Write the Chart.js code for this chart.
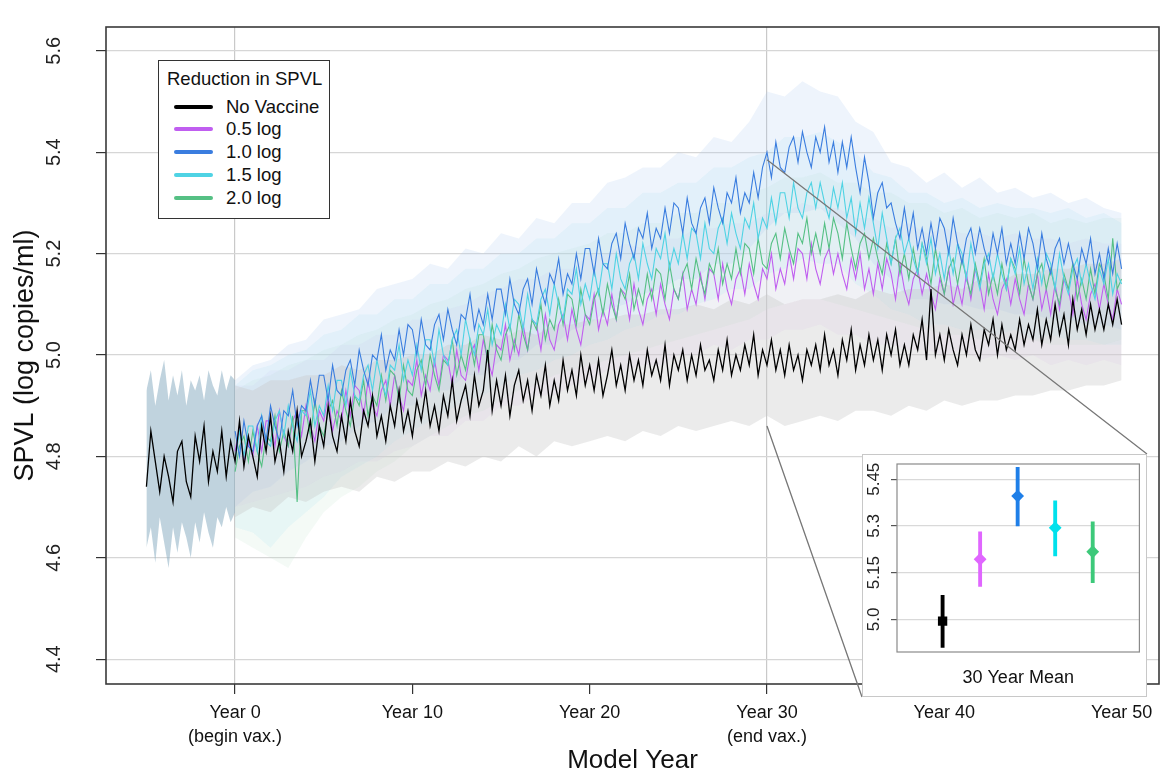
<!DOCTYPE html>
<html>
<head>
<meta charset="utf-8">
<script src="https://cdn.jsdelivr.net/npm/chart.js@4/dist/chart.umd.min.js"></script>
<style>
  body { margin: 0; background: #fff; font-family: "Liberation Sans", Arial, sans-serif; }
  #wrap { position: relative; width: 1161px; height: 779px; overflow: hidden; }
  #main { position: absolute; left: 0; top: 0; }
  #legend { position: absolute; left: 158px; top: 60px; width: 170px; height: 157px;
            border: 1.5px solid #333; background: #fff; font-size: 18.5px; color: #111; }
  #legend .title { position: absolute; left: 8px; top: 7px; line-height: 22px; white-space: nowrap; }
  #legend .row { position: absolute; left: 0; height: 22px; line-height: 22px; white-space: nowrap; }
  #legend .sw { position: absolute; left: 15px; top: 9px; width: 39px; height: 4px; border-radius: 2px; }
  #legend .lbl { position: absolute; left: 67px; top: 0; }
  #insetBox { position: absolute; left: 862px; top: 454px; width: 283px; height: 241px;
              background: #fff; border: 1px solid #c8c8c8; }
</style>
</head>
<body>
<div id="wrap">
  <canvas id="main" width="1161" height="779"></canvas>
  <div id="legend"></div>
  <div id="insetBox"><canvas id="inset" width="283" height="241"></canvas></div>
</div>
<script>
// series names / colours
const seriesNames = ['No Vaccine', '0.5 log', '1.0 log', '1.5 log', '2.0 log'];
const legendTitle = 'Reduction in SPVL';
const lineColors = ['#000000', '#c05ef0', '#3a7ddf', '#4fd3e4', '#55c084'];

// axis ticks
const xTicks = [0, 10, 20, 30, 40, 50];
const xTickLabels = [['Year 0', '(begin vax.)'], 'Year 10', 'Year 20', ['Year 30', '(end vax.)'], 'Year 40', 'Year 50'];
const yTicks = [4.4, 4.6, 4.8, 5.0, 5.2, 5.4, 5.6];
const vGridYears = [0, 30];

// mean SPVL per quarter year, No Vaccine from year -5, the others from year 0
const noVaccineLine = [
  4.74,4.85,4.79,4.73, 4.80,4.76,4.71,4.81, 4.83,4.75,4.72,4.84, 4.79,4.86,4.75,4.81, 4.77,4.85,4.76,4.83,
  4.79,4.87,4.78,4.84, 4.80,4.76,4.86,4.81, 4.88,4.79,4.83,4.77, 4.85,4.81,4.89,4.80, 4.83,4.87,4.79,4.86,
  4.82,4.90,4.84,4.81, 4.88,4.83,4.91,4.85, 4.82,4.89,4.86,4.92, 4.84,4.88,4.83,4.90, 4.86,4.93,4.85,4.89,
  4.84,4.91,4.87,4.93, 4.86,4.90,4.85,4.92, 4.88,4.95,4.87,4.91, 4.94,4.88,4.96,4.90, 4.93,5.01,4.89,4.95,
  4.90,4.96,4.88,4.94, 4.97,4.91,4.95,4.89, 4.96,4.92,4.98,4.90, 4.95,4.91,4.99,4.93, 4.97,4.92,5.00,4.94,
  4.98,4.93,4.99,4.92, 4.96,5.01,4.94,4.98, 4.93,5.00,4.95,4.99, 4.94,5.01,4.96,4.99, 4.95,5.02,4.94,5.00,
  4.97,5.01,4.95,5.00, 4.96,5.02,4.97,4.99, 4.95,5.01,4.97,5.03, 4.96,5.00,4.97,5.02, 4.98,5.04,4.96,5.01,
  4.98,5.03,4.97,5.01, 4.96,5.02,4.97,5.00, 4.95,5.01,4.98,5.02, 4.97,5.04,4.98,5.01, 4.96,5.03,4.99,5.05,
  4.97,5.02,4.98,5.04, 4.99,5.03,4.97,5.04, 5.00,5.05,4.98,5.02, 4.98,5.04,5.01,5.07, 4.99,5.13,5.00,5.04,
  4.99,5.05,5.01,4.98, 5.04,5.00,5.06,5.01, 4.99,5.05,5.02,5.07, 5.00,5.06,5.01,5.04, 5.01,5.07,5.02,5.06,
  5.03,5.09,5.02,5.07, 5.03,5.10,5.04,5.08, 5.02,5.11,5.05,5.09, 5.04,5.10,5.05,5.09, 5.05,5.10,5.06,5.11,
  5.06
];
const halfLogLine = [
  4.81,4.86,4.79,4.83, 4.80,4.86,4.81,4.87, 4.87,4.82,4.89,4.84, 4.82,4.87,4.89,4.84, 4.90,4.86,4.83,4.89,
  4.87,4.92,4.85,4.89, 4.87,4.93,4.88,4.94, 4.93,4.88,4.95,4.90, 4.88,4.93,4.95,4.90, 4.96,4.92,4.89,4.95,
  4.94,4.99,4.92,4.96, 4.93,4.99,4.94,5.00, 4.99,4.94,5.01,4.96, 4.95,5.00,5.02,4.97, 5.03,4.99,4.96,5.02,
  5.01,5.06,4.99,5.03, 5.00,5.06,5.01,5.07, 5.06,5.01,5.08,5.03, 5.01,5.06,5.08,5.03, 5.09,5.05,5.02,5.08,
  5.07,5.12,5.05,5.09, 5.06,5.12,5.07,5.13, 5.12,5.07,5.14,5.09, 5.06,5.11,5.13,5.08, 5.14,5.10,5.07,5.13,
  5.11,5.16,5.09,5.13, 5.10,5.16,5.11,5.17, 5.16,5.11,5.18,5.13, 5.10,5.15,5.17,5.12, 5.18,5.14,5.11,5.17,
  5.15,5.20,5.13,5.17, 5.14,5.20,5.15,5.21, 5.20,5.15,5.22,5.17, 5.14,5.19,5.21,5.16, 5.20,5.16,5.13,5.19,
  5.15,5.20,5.13,5.17, 5.12,5.18,5.13,5.19, 5.16,5.11,5.18,5.13, 5.10,5.15,5.17,5.12, 5.16,5.12,5.09,5.15,
  5.12,5.17,5.10,5.14, 5.10,5.16,5.11,5.17, 5.14,5.09,5.16,5.11, 5.08,5.13,5.15,5.10, 5.15,5.11,5.08,5.14,
  5.11,5.16,5.09,5.13, 5.08,5.14,5.09,5.15, 5.13,5.08,5.15,5.10, 5.07,5.12,5.14,5.09, 5.14,5.10,5.07,5.13,
  5.10
];
const oneLogLine = [
  4.85,4.80,4.87,4.82, 4.81,4.86,4.88,4.83, 4.90,4.86,4.83,4.89, 4.88,4.93,4.86,4.90, 4.89,4.95,4.90,4.96,
  4.96,4.91,4.98,4.93, 4.92,4.97,4.99,4.94, 5.01,4.97,4.94,5.00, 4.99,5.04,4.97,5.01, 4.99,5.05,5.00,5.06,
  5.05,5.00,5.07,5.02, 5.01,5.06,5.08,5.03, 5.09,5.05,5.02,5.08, 5.07,5.12,5.05,5.09, 5.06,5.12,5.07,5.13,
  5.13,5.08,5.15,5.10, 5.08,5.13,5.15,5.10, 5.17,5.13,5.10,5.16, 5.14,5.19,5.12,5.16, 5.14,5.20,5.15,5.21,
  5.21,5.16,5.23,5.18, 5.17,5.22,5.24,5.19, 5.26,5.22,5.19,5.25, 5.23,5.28,5.21,5.25, 5.23,5.29,5.24,5.30,
  5.29,5.24,5.31,5.26, 5.24,5.29,5.31,5.26, 5.33,5.29,5.26,5.32, 5.30,5.35,5.28,5.32, 5.30,5.36,5.31,5.37,
  5.40,5.35,5.42,5.37, 5.36,5.41,5.43,5.38, 5.44,5.40,5.37,5.43, 5.40,5.45,5.38,5.42, 5.36,5.42,5.37,5.43,
  5.37,5.32,5.39,5.34, 5.27,5.32,5.34,5.29, 5.30,5.26,5.23,5.29, 5.23,5.28,5.21,5.25, 5.20,5.26,5.21,5.27,
  5.25,5.20,5.27,5.22, 5.18,5.23,5.25,5.20, 5.25,5.21,5.18,5.24, 5.20,5.25,5.18,5.22, 5.18,5.24,5.19,5.25,
  5.22,5.17,5.24,5.19, 5.16,5.21,5.23,5.18, 5.22,5.18,5.15,5.21, 5.18,5.23,5.16,5.20, 5.15,5.21,5.16,5.22,
  5.17
];
const oneHalfLogLine = [
  4.79,4.85,4.80,4.86, 4.86,4.81,4.88,4.83, 4.82,4.87,4.89,4.84, 4.90,4.86,4.83,4.89, 4.88,4.93,4.86,4.90,
  4.88,4.94,4.89,4.95, 4.95,4.90,4.97,4.92, 4.91,4.96,4.98,4.93, 4.99,4.95,4.92,4.98, 4.97,5.02,4.95,4.99,
  4.96,5.02,4.97,5.03, 5.03,4.98,5.05,5.00, 4.98,5.03,5.05,5.00, 5.07,5.03,5.00,5.06, 5.04,5.09,5.02,5.06,
  5.04,5.10,5.05,5.11, 5.10,5.05,5.12,5.07, 5.06,5.11,5.13,5.08, 5.14,5.10,5.07,5.13, 5.12,5.17,5.10,5.14,
  5.11,5.17,5.12,5.18, 5.18,5.13,5.20,5.15, 5.13,5.18,5.20,5.15, 5.22,5.18,5.15,5.21, 5.19,5.24,5.17,5.21,
  5.18,5.24,5.19,5.25, 5.24,5.19,5.26,5.21, 5.20,5.25,5.27,5.22, 5.28,5.24,5.21,5.27, 5.25,5.30,5.23,5.27,
  5.25,5.31,5.26,5.32, 5.32,5.27,5.34,5.29, 5.27,5.32,5.34,5.29, 5.34,5.30,5.27,5.33, 5.29,5.34,5.27,5.31,
  5.24,5.30,5.25,5.31, 5.26,5.21,5.28,5.23, 5.18,5.23,5.25,5.20, 5.23,5.19,5.16,5.22, 5.18,5.23,5.16,5.20,
  5.15,5.21,5.16,5.22, 5.20,5.15,5.22,5.17, 5.13,5.18,5.20,5.15, 5.20,5.16,5.13,5.19, 5.16,5.21,5.14,5.18,
  5.13,5.19,5.14,5.20, 5.18,5.13,5.20,5.15, 5.12,5.17,5.19,5.14, 5.18,5.14,5.11,5.17, 5.14,5.19,5.12,5.16,
  5.14
];
const twoLogLine = [
  4.77,4.82,4.84,4.79, 4.85,4.81,4.78,4.84, 4.83,4.88,4.81,4.85, 4.82,4.88,4.71,4.89, 4.89,4.84,4.91,4.86,
  4.84,4.89,4.91,4.86, 4.93,4.89,4.86,4.92, 4.90,4.95,4.88,4.92, 4.90,4.96,4.91,4.97, 4.96,4.91,4.98,4.93,
  4.92,4.97,4.99,4.94, 5.00,4.96,4.93,4.99, 4.98,5.03,4.96,5.00, 4.97,5.03,4.98,5.04, 5.04,4.99,5.06,5.01,
  4.99,5.04,5.06,5.01, 5.08,5.04,5.01,5.07, 5.05,5.10,5.03,5.07, 5.05,5.11,5.06,5.12, 5.11,5.06,5.13,5.08,
  5.06,5.11,5.13,5.08, 5.14,5.10,5.07,5.13, 5.11,5.16,5.09,5.13, 5.10,5.16,5.11,5.17, 5.16,5.11,5.18,5.13,
  5.11,5.16,5.18,5.13, 5.19,5.15,5.12,5.18, 5.16,5.21,5.14,5.18, 5.15,5.21,5.16,5.22, 5.21,5.16,5.23,5.18,
  5.17,5.22,5.24,5.19, 5.25,5.21,5.18,5.24, 5.22,5.27,5.20,5.24, 5.20,5.26,5.21,5.27, 5.24,5.19,5.26,5.21,
  5.17,5.22,5.24,5.19, 5.23,5.19,5.16,5.22, 5.18,5.23,5.16,5.20, 5.15,5.21,5.16,5.22, 5.19,5.14,5.21,5.16,
  5.12,5.17,5.19,5.14, 5.19,5.15,5.12,5.18, 5.14,5.19,5.12,5.16, 5.12,5.18,5.13,5.19, 5.17,5.12,5.19,5.14,
  5.11,5.16,5.18,5.13, 5.17,5.13,5.10,5.16, 5.13,5.18,5.11,5.15, 5.11,5.17,5.12,5.18, 5.16,5.11,5.23,5.13,
  5.15
];

// spread bands, one value per year from year 0
const noVaccineBandLow = [4.68,4.70,4.69,4.72,4.71,4.73,4.74,4.73,4.76,4.75,4.77,4.77,4.79,4.78,4.80,4.79,4.82,4.80,4.83,4.82,4.83,4.84,4.83,4.85,4.84,4.86,4.85,4.86,4.87,4.86,4.88,4.86,4.87,4.88,4.87,4.89,4.89,4.88,4.90,4.89,4.91,4.90,4.91,4.91,4.92,4.92,4.93,4.93,4.94,4.94,4.95];
const noVaccineBandHigh = [4.94,4.93,4.95,4.95,4.96,4.96,4.98,4.97,4.99,4.99,5.00,5.00,5.02,5.02,5.04,5.03,5.05,5.04,5.06,5.06,5.07,5.07,5.08,5.08,5.09,5.09,5.10,5.09,5.11,5.10,5.12,5.10,5.11,5.11,5.12,5.11,5.13,5.12,5.13,5.13,5.14,5.13,5.15,5.14,5.16,5.16,5.17,5.17,5.18,5.18,5.19];
const halfLogBandLow = [4.70,4.71,4.72,4.73,4.74,4.76,4.77,4.79,4.79,4.81,4.82,4.84,4.84,4.87,4.87,4.90,4.90,4.92,4.92,4.94,4.95,4.97,4.97,4.98,4.98,5.00,5.00,5.02,5.01,5.03,5.03,5.05,5.05,5.06,5.04,5.04,5.02,5.02,5.01,5.01,5.00,5.01,4.99,5.00,4.99,5.00,4.98,4.99,4.98,4.99,4.98];
const halfLogBandHigh = [4.94,4.94,4.97,4.97,4.99,4.99,5.02,5.02,5.04,5.04,5.07,5.07,5.09,5.10,5.12,5.13,5.15,5.15,5.17,5.17,5.20,5.20,5.22,5.21,5.23,5.23,5.25,5.25,5.26,5.26,5.28,5.28,5.30,5.29,5.29,5.27,5.27,5.25,5.26,5.24,5.25,5.24,5.24,5.23,5.24,5.23,5.23,5.22,5.23,5.22,5.22];
const oneLogBandLow = [4.70,4.73,4.74,4.77,4.79,4.82,4.83,4.86,4.87,4.90,4.90,4.93,4.93,4.96,4.96,4.99,4.99,5.02,5.02,5.05,5.06,5.09,5.10,5.12,5.13,5.15,5.15,5.18,5.18,5.21,5.25,5.28,5.28,5.29,5.26,5.23,5.18,5.15,5.11,5.11,5.10,5.10,5.09,5.09,5.08,5.08,5.07,5.07,5.06,5.06,5.05];
const oneLogBandHigh = [4.95,4.98,4.99,5.02,5.03,5.07,5.08,5.09,5.13,5.14,5.15,5.18,5.17,5.21,5.20,5.24,5.23,5.27,5.26,5.30,5.30,5.34,5.35,5.37,5.37,5.40,5.39,5.43,5.42,5.46,5.52,5.51,5.54,5.52,5.51,5.46,5.44,5.38,5.37,5.34,5.36,5.33,5.35,5.32,5.33,5.31,5.32,5.30,5.31,5.29,5.28];
const oneHalfLogBandLow = [4.66,4.65,4.62,4.66,4.69,4.72,4.76,4.78,4.80,4.83,4.85,4.87,4.89,4.91,4.92,4.94,4.96,4.97,4.99,5.00,5.02,5.03,5.05,5.06,5.08,5.08,5.10,5.11,5.13,5.13,5.16,5.17,5.19,5.18,5.18,5.14,5.12,5.09,5.08,5.06,5.06,5.05,5.05,5.04,5.05,5.03,5.04,5.03,5.03,5.02,5.02];
const oneHalfLogBandHigh = [4.94,4.97,4.98,5.00,5.01,5.04,5.05,5.08,5.08,5.11,5.11,5.14,5.14,5.17,5.17,5.20,5.20,5.23,5.23,5.26,5.26,5.29,5.29,5.32,5.32,5.34,5.34,5.37,5.37,5.39,5.40,5.43,5.43,5.44,5.42,5.40,5.36,5.35,5.32,5.32,5.30,5.31,5.29,5.30,5.29,5.29,5.28,5.29,5.27,5.28,5.26];
const twoLogBandLow = [4.64,4.62,4.60,4.58,4.64,4.69,4.72,4.74,4.77,4.79,4.82,4.84,4.86,4.88,4.89,4.91,4.93,4.94,4.96,4.97,4.98,4.99,5.00,5.01,5.02,5.03,5.04,5.05,5.06,5.07,5.09,5.10,5.11,5.11,5.10,5.09,5.08,5.07,5.06,5.05,5.04,5.04,5.03,5.03,5.03,5.03,5.02,5.02,5.02,5.02,5.03];
const twoLogBandHigh = [4.93,4.95,4.96,4.98,4.99,5.01,5.02,5.04,5.05,5.07,5.08,5.10,5.11,5.13,5.14,5.16,5.17,5.19,5.20,5.21,5.22,5.24,5.24,5.26,5.26,5.28,5.28,5.30,5.30,5.32,5.33,5.35,5.35,5.36,5.34,5.34,5.32,5.32,5.30,5.30,5.28,5.29,5.27,5.28,5.27,5.28,5.26,5.27,5.26,5.27,5.27];
// pre-vaccine spread (all scenarios identical), quarter years from -5 to 0
const preVaxBandLow = [4.62,4.66,4.59,4.68,4.63,4.58,4.66,4.61,4.67,4.64,4.60,4.67,4.63,4.69,4.65,4.62,4.68,4.66,4.70,4.67,4.69];
const preVaxBandHigh = [4.93,4.97,4.90,4.95,4.99,4.91,4.96,4.92,4.97,4.90,4.95,4.93,4.96,4.91,4.97,4.94,4.92,4.97,4.93,4.96,4.95];

// zoom lines from the main chart to the inset
const zoomYear = 30;
const zoomHigh = 5.385;
const zoomLow = 4.86;

// inset: 30 year mean with interval
const insetMean = [4.994, 5.193, 5.396, 5.294, 5.217];
const insetLow = [4.91, 5.106, 5.30, 5.204, 5.118];
const insetHigh = [5.077, 5.281, 5.488, 5.381, 5.313];
const insetTicks = [5.0, 5.15, 5.3, 5.45];
const insetTickLabels = ['5.0', '5.15', '5.3', '5.45'];
const insetColors = ['#000000', '#e066ff', '#1f7fe8', '#00e1ec', '#3dc97a'];

const FONT = '"Liberation Sans", Arial, sans-serif';
Chart.defaults.font.family = FONT;
Chart.defaults.color = '#111';

const quarterYears = (start, n) => Array.from({ length: n }, (_, i) => start + i / 4);
const wholeYears = n => Array.from({ length: n }, (_, i) => i);
const pts = (xs, ys) => ys.map((y, i) => ({ x: xs[i], y }));

function lineSet(label, ys, start, color, width) {
  return { label, data: pts(quarterYears(start, ys.length), ys), borderColor: color,
           borderWidth: width, pointRadius: 0, fill: false, tension: 0 };
}
function bandSets(xs, lo, hi, color) {
  return [
    { data: pts(xs, lo), borderColor: 'rgba(0,0,0,0)', borderWidth: 0, pointRadius: 0, fill: false },
    { data: pts(xs, hi), borderColor: 'rgba(0,0,0,0)', borderWidth: 0, pointRadius: 0, fill: '-1', backgroundColor: color }
  ];
}
// keep the plot area where the layout puts it (no extra room for tick labels)
function fixPadding(s) {
  s.paddingTop = 0; s.paddingBottom = 0; s.paddingLeft = 0; s.paddingRight = 0;
}

// box around the plot area
const frame = {
  id: 'frame',
  afterDatasetsDraw(chart, args, opts) {
    const { ctx, chartArea: a } = chart;
    ctx.save();
    ctx.strokeStyle = opts.color;
    ctx.lineWidth = opts.width;
    ctx.strokeRect(a.left, a.top, a.right - a.left, a.bottom - a.top);
    ctx.restore();
  }
};

const zoomLines = {
  id: 'zoomLines',
  afterDraw(chart) {
    const { ctx, scales: { x, y } } = chart;
    const box = document.getElementById('insetBox');
    const px = x.getPixelForValue(zoomYear);
    ctx.save();
    ctx.strokeStyle = '#777';
    ctx.lineWidth = 1.3;
    ctx.beginPath();
    ctx.moveTo(px, y.getPixelForValue(zoomHigh));
    ctx.lineTo(box.offsetLeft + box.offsetWidth, box.offsetTop);
    ctx.moveTo(px, y.getPixelForValue(zoomLow));
    ctx.lineTo(box.offsetLeft, box.offsetTop + box.offsetHeight);
    ctx.stroke();
    ctx.restore();
  }
};

const bandYears = wholeYears(noVaccineBandLow.length);
const datasets = [
  lineSet(seriesNames[0], noVaccineLine, -5, lineColors[0], 1.3),
  lineSet(seriesNames[2], oneLogLine, 0, lineColors[2], 1.1),
  lineSet(seriesNames[3], oneHalfLogLine, 0, lineColors[3], 1.1),
  lineSet(seriesNames[4], twoLogLine, 0, lineColors[4], 1.1),
  lineSet(seriesNames[1], halfLogLine, 0, lineColors[1], 1.1),
  ...bandSets(bandYears, noVaccineBandLow, noVaccineBandHigh, 'rgba(200,200,200,0.36)'),
  ...bandSets(quarterYears(-5, preVaxBandLow.length), preVaxBandLow, preVaxBandHigh, 'rgba(140,175,195,0.55)'),
  ...bandSets(bandYears, oneLogBandLow, oneLogBandHigh, 'rgba(170,200,242,0.20)'),
  ...bandSets(bandYears, oneHalfLogBandLow, oneHalfLogBandHigh, 'rgba(175,230,240,0.20)'),
  ...bandSets(bandYears, twoLogBandLow, twoLogBandHigh, 'rgba(185,225,200,0.16)'),
  ...bandSets(bandYears, halfLogBandLow, halfLogBandHigh, 'rgba(230,200,244,0.20)')
];

new Chart(document.getElementById('main'), {
  type: 'line',
  data: { datasets },
  plugins: [frame, zoomLines],
  options: {
    responsive: false,
    animation: false,
    layout: { padding: { top: 27, right: 2, left: 0, bottom: 0 } },
    plugins: { legend: { display: false }, tooltip: { enabled: false }, frame: { color: '#3a3a3a', width: 1.6 } },
    scales: {
      x: {
        type: 'linear', min: -7.28, max: 52.11,
        afterBuildTicks: s => { s.ticks = xTicks.map(v => ({ value: v })); },
        afterFit: s => { s.height = 95; fixPadding(s); },
        border: { display: false },
        grid: {
          color: c => (c.tick && vGridYears.includes(c.tick.value)) ? '#c9c9c9' : 'rgba(0,0,0,0)',
          tickColor: '#333', tickLength: 10, lineWidth: 1.2
        },
        ticks: {
          autoSkip: false, maxRotation: 0, padding: 8,
          font: { size: 18, lineHeight: 1.28 }, color: '#111',
          callback: v => xTickLabels[xTicks.indexOf(v)]
        },
        title: { display: true, text: 'Model Year', font: { size: 26 }, padding: { top: 0, bottom: 3 }, color: '#111' }
      },
      y: {
        min: 4.351, max: 5.647,
        afterBuildTicks: s => { s.ticks = yTicks.map(v => ({ value: v })); },
        afterFit: s => { s.width = 106; fixPadding(s); },
        border: { display: false },
        grid: { color: '#d6d6d6', tickColor: '#333', tickLength: 10, lineWidth: 1.2 },
        ticks: {
          autoSkip: false, minRotation: 90, maxRotation: 90, crossAlign: 'center', padding: 28,
          font: { size: 20 }, color: '#222',
          callback: v => v.toFixed(1)
        },
        title: { display: true, text: 'SPVL (log copies/ml)', font: { size: 27 }, padding: { top: 9, bottom: 0 }, color: '#111' }
      }
    }
  }
});

// legend box
const legend = document.getElementById('legend');
legend.innerHTML = '<div class="title">' + legendTitle + '</div>' +
  seriesNames.map((name, i) =>
    '<div class="row" style="top:' + (34.7 + i * 22.75) + 'px">' +
    '<span class="sw" style="background:' + lineColors[i] + '"></span>' +
    '<span class="lbl">' + name + '</span></div>').join('');

// inset chart
const insetX = seriesNames.map((_, i) => i + 1);
new Chart(document.getElementById('inset'), {
  type: 'bar',
  data: {
    datasets: [
      {
        type: 'line', showLine: false,
        data: pts(insetX, insetMean),
        pointStyle: insetX.map((_, i) => i === 0 ? 'rect' : 'rectRot'),
        pointRadius: insetX.map((_, i) => i === 0 ? 6.6 : 6.4),
        pointBackgroundColor: insetColors, pointBorderColor: insetColors, pointBorderWidth: 0
      },
      {
        type: 'bar',
        data: insetX.map((x, i) => ({ x, y: [insetLow[i], insetHigh[i]] })),
        backgroundColor: insetColors, barThickness: 3.2, grouped: false
      }
    ]
  },
  plugins: [frame],
  options: {
    responsive: false,
    animation: false,
    layout: { padding: { top: 9, right: 3, left: 0, bottom: 0 } },
    plugins: { legend: { display: false }, tooltip: { enabled: false }, frame: { color: '#8a8a8a', width: 1.2 } },
    scales: {
      x: {
        type: 'linear', min: -0.215, max: 6.244, offset: false,
        afterFit: s => { s.height = 44; fixPadding(s); },
        border: { display: false },
        grid: { display: false },
        ticks: { display: false },
        title: { display: true, text: '30 Year Mean', font: { size: 18 }, padding: { top: 0, bottom: 7 }, color: '#111' }
      },
      y: {
        min: 4.895, max: 5.499,
        afterBuildTicks: s => { s.ticks = insetTicks.map(v => ({ value: v })); },
        afterFit: s => { s.width = 34; fixPadding(s); },
        border: { display: false },
        grid: { color: '#d9d9d9', tickColor: '#555', tickLength: 6, lineWidth: 1.2 },
        ticks: {
          autoSkip: false, minRotation: 90, maxRotation: 90, crossAlign: 'center', padding: 0,
          font: { size: 17 }, color: '#222',
          callback: v => insetTickLabels[insetTicks.indexOf(v)]
        }
      }
    }
  }
});
</script>
</body>
</html>
